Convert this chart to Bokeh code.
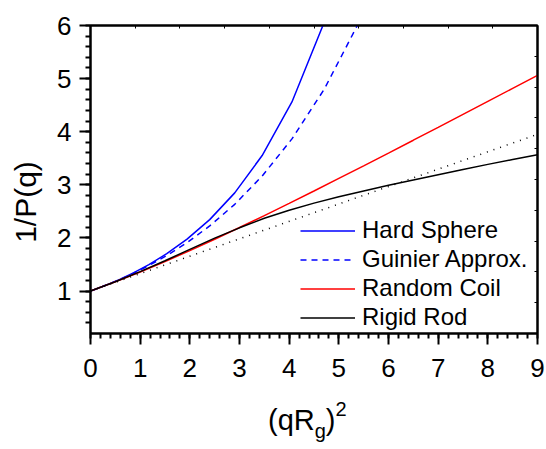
from bokeh.plotting import figure
from bokeh.layouts import column
from bokeh.models import (Legend, LegendItem, Div, LinearAxis, Range1d,
                          SingleIntervalTicker, FixedTicker, CustomLabelingPolicy)
from bokeh.embed import file_html
from bokeh.resources import INLINE

# Hard sphere form factor, sampled at qR = 0, 0.2, ... 2.8  ->  (qRg)^2 = 0.6 (qR)^2
sphere_x = [0.0, 0.024, 0.096, 0.216, 0.384, 0.6, 0.864, 1.176, 1.536, 1.944,
            2.4, 2.904, 3.456, 4.056, 4.704]
sphere_y = [1.0, 1.008, 1.0326, 1.0751, 1.1379, 1.2250, 1.3420, 1.4973, 1.7028,
            1.9764, 2.3445, 2.8480, 3.5514, 4.5605, 6.0570]

# Guinier approximation on the same grid, continued to (qRg)^2 = 5.4
guinier_x = [0.0, 0.024, 0.096, 0.216, 0.384, 0.6, 0.864, 1.176, 1.536, 1.944,
             2.4, 2.904, 3.456, 4.056, 4.704, 5.4]
guinier_y = [1.0, 1.0080, 1.0325, 1.0747, 1.1366, 1.2214, 1.3338, 1.4800, 1.6686,
             1.9117, 2.2255, 2.6327, 3.1646, 3.8650, 4.7968, 6.0496]

# Random coil (Debye)
coil_x = [0.0, 0.5, 1.0, 1.5, 2.0, 2.5, 3.0, 3.5, 4.0, 4.5, 5.0, 5.5, 6.0, 6.5,
          7.0, 7.5, 8.0, 8.5, 9.0]
coil_y = [1.0, 1.1734, 1.3591, 1.5557, 1.7616, 1.9752, 2.1954, 2.4208, 2.6505,
          2.8837, 3.1198, 3.3581, 3.5982, 3.8399, 4.0827, 4.3266, 4.5712, 4.8165,
          5.0624]

# Rigid rod
rod_x = [0.0, 0.5, 1.0, 1.5, 2.0, 2.5, 3.0, 3.5, 4.0, 4.5, 5.0, 5.5, 6.0, 6.5,
         7.0, 7.5, 8.0, 8.5, 9.0]
rod_y = [1.0, 1.175, 1.365, 1.57, 1.785, 1.995, 2.19, 2.37, 2.52, 2.655, 2.775,
         2.885, 2.99, 3.09, 3.19, 3.29, 3.385, 3.475, 3.565]

# Low-q linear expansion
linear_x = [0.0, 9.0]
linear_y = [1.0, 3.95]

FONT = "Liberation Sans"

p = figure(width=546, height=398, x_range=Range1d(0, 9), y_range=Range1d(0.2, 6),
           output_backend="svg", toolbar_location=None,
           min_border_left=90, min_border_right=9, min_border_top=25,
           min_border_bottom=65)
p.xgrid.visible = False
p.ygrid.visible = False
p.outline_line_color = "black"
p.outline_line_width = 2
p.background_fill_color = "white"
p.border_fill_color = "white"

for ax in (p.xaxis[0], p.yaxis[0]):
    ax.ticker = SingleIntervalTicker(interval=1, num_minor_ticks=5)
    ax.axis_line_width = 2
    ax.major_tick_line_width = 2
    ax.minor_tick_line_width = 2
    ax.major_tick_in = 0
    ax.major_tick_out = 11
    ax.minor_tick_in = 0
    ax.minor_tick_out = 5
    ax.major_label_text_font = FONT
    ax.major_label_text_font_size = "26px"
    ax.major_label_text_color = "black"

p.xaxis.major_label_standoff = 14
p.yaxis.major_label_standoff = 8
# trailing en spaces push the rotated title a little below the frame centre
p.yaxis.axis_label = "1/P(q)\u2002\u2002\u2002"
p.yaxis.axis_label_text_font = FONT
p.yaxis.axis_label_text_font_size = "30px"
p.yaxis.axis_label_text_font_style = "normal"
p.yaxis.axis_label_text_color = "black"
p.yaxis.axis_label_standoff = 12

# frame box ticks on the top and right edges (no labels)
no_labels = CustomLabelingPolicy(code="return new Set()")
p.extra_x_ranges = {"box_x": Range1d(0, 10)}
p.extra_y_ranges = {"box_y": Range1d(0, 10)}
for ax, side in ((LinearAxis(x_range_name="box_x"), "above"),
                 (LinearAxis(y_range_name="box_y"), "right")):
    ax.ticker = FixedTicker(ticks=[1, 2, 3, 4, 5, 6, 7, 8, 9])
    ax.axis_line_width = 2
    ax.major_tick_in = 3
    ax.major_tick_out = 0
    ax.major_tick_line_width = 1
    ax.minor_tick_line_alpha = 0
    ax.major_label_policy = no_labels
    ax.major_label_standoff = 0
    p.add_layout(ax, side)

r_sphere = p.line(sphere_x, sphere_y, line_color="#0000ff", line_width=1.5)
r_guinier = p.line(guinier_x, guinier_y, line_color="#0000ff", line_width=1.5,
                   line_dash="6 5")
r_coil = p.line(coil_x, coil_y, line_color="#ff0000", line_width=1.5)
r_rod = p.line(rod_x, rod_y, line_color="black", line_width=1.5)
p.line(linear_x, linear_y, line_color="black", line_width=1.5, line_dash="1 6")

legend = Legend(items=[LegendItem(label="Hard Sphere", renderers=[r_sphere]),
                       LegendItem(label="Guinier Approx.", renderers=[r_guinier]),
                       LegendItem(label="Random Coil", renderers=[r_coil]),
                       LegendItem(label="Rigid Rod", renderers=[r_rod])],
                location=(210, 2))
legend.glyph_width = 55
legend.glyph_height = 25
legend.label_height = 25
legend.label_standoff = 7
legend.spacing = 1
legend.padding = 0
legend.margin = 0
legend.border_line_alpha = 0
legend.background_fill_alpha = 0
legend.label_text_font = FONT
legend.label_text_font_size = "24px"
legend.label_text_color = "black"
p.add_layout(legend)

# x-axis title (qR_g)^2 with real subscript and superscript
x_title = Div(
    text=('<div style="font-family:\'Liberation Sans\'; font-size:29px; color:black; '
          'line-height:29px; padding-left:268px; padding-top:8px; white-space:nowrap;">'
          '(qR<span style="font-size:20px; position:relative; top:8px;">g</span>)'
          '<span style="font-size:20px; position:relative; top:-14px;">2</span></div>'),
    width=546, height=51, margin=0)

layout = column(p, x_title, spacing=0)
open("out.html", "w").write(file_html(layout, INLINE))
